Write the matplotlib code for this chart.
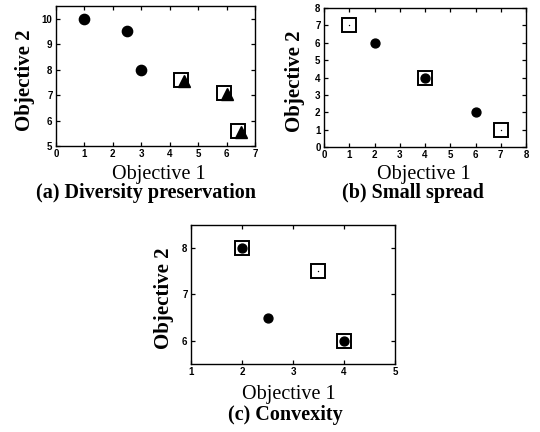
import matplotlib
matplotlib.use("Agg")
import matplotlib.pyplot as plt

# (a) Diversity preservation
a_circle_x = [1.0, 2.5, 3.0]
a_circle_y = [10.0, 9.5, 8.0]
a_square_x = [4.4, 5.9, 6.4]
a_square_y = [7.6, 7.1, 5.6]
a_tri_x = [4.5, 6.0, 6.5]
a_tri_y = [7.55, 7.05, 5.55]
a_xticks = [0, 1, 2, 3, 4, 5, 6, 7]
a_yticks = [5, 6, 7, 8, 9, 10]

# (b) Small spread
b_square_x = [1, 4, 7]
b_square_y = [7, 4, 1]
b_circle_x = [2, 4, 6]
b_circle_y = [6, 4, 2]
b_xticks = [0, 1, 2, 3, 4, 5, 6, 7, 8]
b_yticks = [0, 1, 2, 3, 4, 5, 6, 7, 8]

# (c) Convexity
c_square_x = [2.0, 3.5, 4.0]
c_square_y = [8.0, 7.5, 6.0]
c_circle_x = [2.0, 2.5, 4.0]
c_circle_y = [8.0, 6.5, 6.0]
c_xticks = [1, 2, 3, 4, 5]
c_yticks = [6, 7, 8]

titles = ["(a) Diversity preservation", "(b) Small spread", "(c) Convexity"]
xlabel = "Objective 1"
ylabel = "Objective 2"

W, H = 540, 432
fig = plt.figure(figsize=(W / 100, H / 100), dpi=100)


def px_axes(x0, y0, x1, y1):
    return fig.add_axes([x0 / W, 1 - y1 / H, (x1 - x0) / W, (y1 - y0) / H])


serif = "Liberation Serif"
sans = "Liberation Sans"


def style(ax, xlim, ylim, xt, yt):
    ax.set_xlim(*xlim)
    ax.set_ylim(*ylim)
    ax.set_xticks(xt)
    ax.set_yticks(yt)
    ax.tick_params(direction="in", top=True, right=True, length=3.2, width=0.9,
                   pad=2.5, labelsize=7)
    for lab in ax.get_xticklabels() + ax.get_yticklabels():
        lab.set_fontfamily(sans)
        lab.set_fontweight("bold")
    for s in ax.spines.values():
        s.set_linewidth(1.0)


def labels(ax, xl_y, yl_x, x0, y0, x1, y1, xl_cx=None):
    w, h = x1 - x0, y1 - y0
    ax.set_xlabel(xlabel, fontfamily=serif, fontsize=14.5)
    ax.set_ylabel(ylabel, fontfamily=serif, fontsize=15, fontweight="bold")
    cx = (x0 + x1) / 2 if xl_cx is None else xl_cx
    ax.xaxis.set_label_coords((cx - x0) / w, (y1 - xl_y) / h)
    ax.xaxis.label.set_va("center")
    ax.yaxis.set_label_coords((yl_x - x0) / w, 0.5 - 4 / h)
    ax.yaxis.label.set_va("center")


def square(ax, x, y, ms):
    ax.plot(x, y, ls="none", marker="s", ms=ms, mfc="white", mec="black", mew=1.4, zorder=3)


def dot(ax, x, y):
    ax.plot(x, y, ls="none", marker="o", ms=1.0, mfc="black", mec="none", zorder=3.5)


def circle(ax, x, y, ms):
    ax.plot(x, y, ls="none", marker="o", ms=ms, color="black", zorder=4)


# panel (a)
ax = px_axes(56, 6, 255, 146)
style(ax, (0, 7), (5, 10.5), a_xticks, a_yticks)
circle(ax, a_circle_x, a_circle_y, 7.4)
square(ax, a_square_x, a_square_y, 9.8)
ax.plot(a_tri_x, a_tri_y, ls="none", marker="^", ms=8.6, color="black", zorder=4)
labels(ax, 175, 25, 56, 6, 255, 146, xl_cx=159)
fig.text(146 / W, 1 - 193 / H, titles[0], ha="center", va="center",
         fontfamily=serif, fontsize=14.5, fontweight="bold")

# panel (b)
ax = px_axes(324, 8, 526, 147)
style(ax, (0, 8), (0, 8), b_xticks, b_yticks)
square(ax, b_square_x, b_square_y, 9.6)
dot(ax, b_square_x, b_square_y)
circle(ax, b_circle_x, b_circle_y, 6.4)
labels(ax, 175, 295, 324, 8, 526, 147, xl_cx=424)
fig.text(413 / W, 1 - 193 / H, titles[1], ha="center", va="center",
         fontfamily=serif, fontsize=14.5, fontweight="bold")

# panel (c)
ax = px_axes(191, 225, 395, 364)
style(ax, (1, 5), (5.5, 8.5), c_xticks, c_yticks)
square(ax, c_square_x, c_square_y, 9.4)
dot(ax, c_square_x, c_square_y)
circle(ax, c_circle_x, c_circle_y, 6.4)
labels(ax, 394, 164, 191, 225, 395, 364, xl_cx=289)
fig.text(285 / W, 1 - 415 / H, titles[2], ha="center", va="center",
         fontfamily=serif, fontsize=14.5, fontweight="bold")

fig.savefig("out.png", dpi=100)
